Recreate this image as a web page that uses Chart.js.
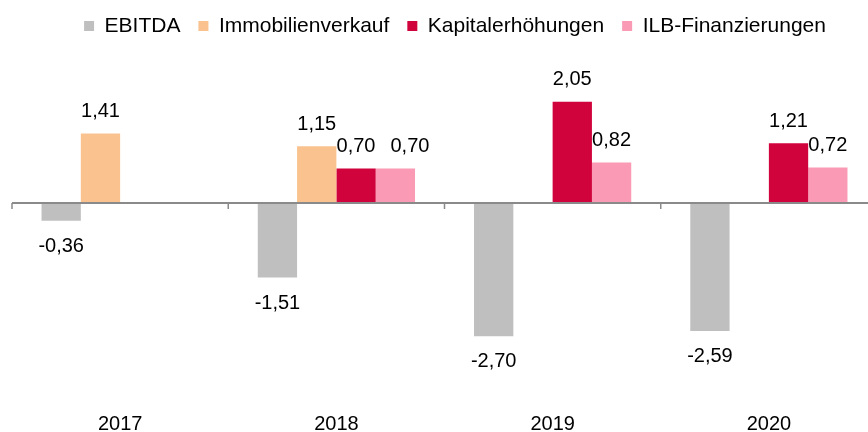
<!DOCTYPE html>
<html>
<head>
<meta charset="utf-8">
<script src="https://cdn.jsdelivr.net/npm/chart.js@4"></script>
<style>
  html, body { margin: 0; padding: 0; overflow: hidden; background: #fff; }
  #wrap { width: 898px; height: 432px; }
</style>
</head>
<body>
<div id="wrap"><canvas id="chart" width="898" height="432"></canvas></div>
<script>
const years = ['2017', '2018', '2019', '2020'];
const ebitda = [-0.36, -1.51, -2.70, -2.59];
const immobilien = [1.41, 1.15, null, null];
const kapital = [null, 0.70, 2.05, 1.21];
const ilb = [null, 0.70, 0.82, 0.72];

const fontFamily = '"Liberation Sans", Arial, sans-serif';

// zero line with tick marks between the years
const axisLine = {
    id: 'axisLine',
    afterDatasetsDraw(chart) {
        const ctx = chart.ctx;
        const xs = chart.scales.x;
        const y0 = chart.scales.y.getPixelForValue(0);
        const step = xs.getPixelForValue(1) - xs.getPixelForValue(0);
        ctx.save();
        ctx.strokeStyle = '#8a8a8a';
        ctx.lineWidth = 2;
        ctx.beginPath();
        ctx.moveTo(chart.chartArea.left, y0);
        ctx.lineTo(chart.chartArea.right, y0);
        ctx.stroke();
        ctx.lineWidth = 1.5;
        for (let i = 0; i <= years.length; i++) {
            const x = xs.getPixelForValue(0) - step / 2 + i * step;
            ctx.beginPath();
            ctx.moveTo(x, y0);
            ctx.lineTo(x, y0 + 6);
            ctx.stroke();
        }
        ctx.restore();
    }
};

// value labels above / below the bars, pushed right when they would collide
const valueLabels = {
    id: 'valueLabels',
    afterDatasetsDraw(chart) {
        const ctx = chart.ctx;
        const placed = [];
        ctx.save();
        ctx.font = '20px ' + fontFamily;
        ctx.fillStyle = '#000';
        ctx.textAlign = 'center';
        ctx.textBaseline = 'middle';
        chart.data.datasets.forEach((ds, i) => {
            chart.getDatasetMeta(i).data.forEach((bar, j) => {
                const v = ds.data[j];
                if (v === null) return;
                const text = v.toFixed(2).replace('.', ',');
                const w = ctx.measureText(text).width;
                const y = v >= 0 ? bar.y - 22 : bar.y + 25.5;
                let x = bar.x;
                placed.forEach(p => {
                    if (Math.abs(p.y - y) < 20 && x - w / 2 < p.right + 4 && x + w / 2 > p.left) {
                        x = p.right + 15 + w / 2;
                    }
                });
                placed.push({ left: x - w / 2, right: x + w / 2, y: y });
                ctx.fillText(text, x, y);
            });
        });
        ctx.restore();
    }
};

new Chart(document.getElementById('chart'), {
    type: 'bar',
    data: {
        labels: years,
        datasets: [
            { label: 'EBITDA', data: ebitda, backgroundColor: '#bfbfbf' },
            { label: 'Immobilienverkauf', data: immobilien, backgroundColor: '#f9c28f' },
            { label: 'Kapitalerhöhungen', data: kapital, backgroundColor: '#d0033c' },
            { label: 'ILB-Finanzierungen', data: ilb, backgroundColor: '#fa9ab4' }
        ]
    },
    options: {
        responsive: false,
        animation: false,
        layout: { padding: { left: 12, right: 0, top: -2.5, bottom: 0 } },
        datasets: {
            bar: { categoryPercentage: 0.727, barPercentage: 1.0, borderWidth: 0 }
        },
        scales: {
            x: {
                grid: { display: false, drawTicks: false },
                border: { display: false },
                ticks: { color: '#000', padding: 10, font: { family: fontFamily, size: 20 } },
                afterFit: s => { s.height = 30; }
            },
            y: {
                position: 'right',
                min: -4.03,
                max: 3.17,
                grid: { display: false, drawTicks: false },
                border: { display: false },
                ticks: { display: false },
                afterFit: s => { s.width = 21; }
            }
        },
        plugins: {
            tooltip: { enabled: false },
            legend: {
                position: 'top',
                labels: {
                    color: '#000',
                    boxWidth: 10,
                    boxHeight: 10,
                    padding: 18,
                    font: { family: fontFamily, size: 21 }
                }
            }
        }
    },
    plugins: [axisLine, valueLabels]
});
</script>
</body>
</html>
